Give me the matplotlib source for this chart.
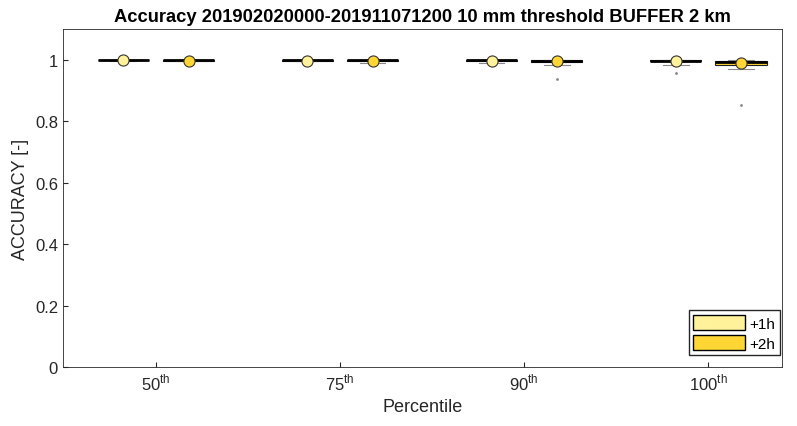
import matplotlib
matplotlib.use('Agg')
import matplotlib.pyplot as plt
from matplotlib.patches import Patch

plt.rcParams['font.family'] = ['Liberation Sans', 'DejaVu Sans']
plt.rcParams['mathtext.fontset'] = 'custom'
plt.rcParams['mathtext.rm'] = 'Liberation Sans'

# dati (statistiche dei boxplot)
percentili = ['50', '75', '90', '100']
serie = ['+1h', '+2h']
colori = ['#FFF29A', '#FFD633']

med_1h = [0.999, 0.998, 0.998, 0.997]
q1_1h = [0.998, 0.997, 0.996, 0.995]
q3_1h = [0.999, 0.999, 0.999, 0.999]
wlo_1h = [0.996, 0.995, 0.990, 0.984]
whi_1h = [1.000, 1.000, 1.000, 1.000]
mean_1h = [0.998, 0.997, 0.996, 0.995]
fl_1h = [[], [], [], [0.955]]

med_2h = [0.998, 0.998, 0.997, 0.992]
q1_2h = [0.997, 0.996, 0.993, 0.984]
q3_2h = [0.999, 0.999, 0.999, 0.997]
wlo_2h = [0.994, 0.990, 0.982, 0.968]
whi_2h = [1.000, 1.000, 1.000, 1.000]
mean_2h = [0.997, 0.996, 0.994, 0.990]
fl_2h = [[], [], [0.938], [0.852]]

def stats(med, q1, q3, wlo, whi, mean, fl):
    return [dict(med=med[i], q1=q1[i], q3=q3[i], whislo=wlo[i], whishi=whi[i],
                 mean=mean[i], fliers=fl[i]) for i in range(len(med))]

fig, ax = plt.subplots(figsize=(7.97, 4.27), dpi=100)
fig.subplots_adjust(left=0.079, right=0.981, top=0.93, bottom=0.138)

centri = [1, 2, 3, 4]
off = 0.177
larg = 0.28
gruppi = [stats(med_1h, q1_1h, q3_1h, wlo_1h, whi_1h, mean_1h, fl_1h),
          stats(med_2h, q1_2h, q3_2h, wlo_2h, whi_2h, mean_2h, fl_2h)]
for k, st in enumerate(gruppi):
    pos = [c + (off if k else -off) for c in centri]
    ax.bxp(st, positions=pos, widths=larg, patch_artist=True, showmeans=True,
           boxprops=dict(facecolor=colori[k], edgecolor='#222222', linewidth=0.8),
           medianprops=dict(color='black', linewidth=2),
           whiskerprops=dict(color='#888888', linewidth=0.8, linestyle='-'),
           capprops=dict(color='#888888', linewidth=0.8),
           capwidths=larg * 0.5,
           flierprops=dict(marker='.', markersize=2, markerfacecolor='#888888',
                           markeredgecolor='#888888'),
           meanprops=dict(marker='o', markersize=8, markerfacecolor=colori[k],
                          markeredgecolor='#333333', markeredgewidth=0.8))

ax.set_xlim(0.495, 4.40)
ax.set_ylim(0, 1.1)
ax.set_xticks(centri)
ax.set_xticklabels([p + r'$^{\mathrm{th}}$' for p in percentili], fontsize=12)
ax.set_yticks([0, 0.2, 0.4, 0.6, 0.8, 1])
ax.set_yticklabels(['0', '0.2', '0.4', '0.6', '0.8', '1'])
ax.tick_params(direction='in', labelsize=12, colors='#262626')
ax.set_xlabel('Percentile', fontsize=13, color='#262626')
ax.set_ylabel('ACCURACY [-]', fontsize=13, color='#262626')
ax.set_title('Accuracy 201902020000-201911071200 10 mm threshold BUFFER 2 km',
             fontsize=13.2, fontweight='bold')
for s in ax.spines.values():
    s.set_color('#262626')
    s.set_linewidth(0.6)

maniglie = [Patch(facecolor=colori[k], edgecolor='black', label=serie[k]) for k in range(2)]
ax.legend(handles=maniglie, loc='lower right', bbox_to_anchor=(0.997, 0.035),
          borderaxespad=0, fontsize=11, fancybox=False,
          edgecolor='#262626', handlelength=3.4, handleheight=1.1, handletextpad=0.25,
          borderpad=0.3, labelspacing=0.3, framealpha=1)

plt.savefig('out.png')
